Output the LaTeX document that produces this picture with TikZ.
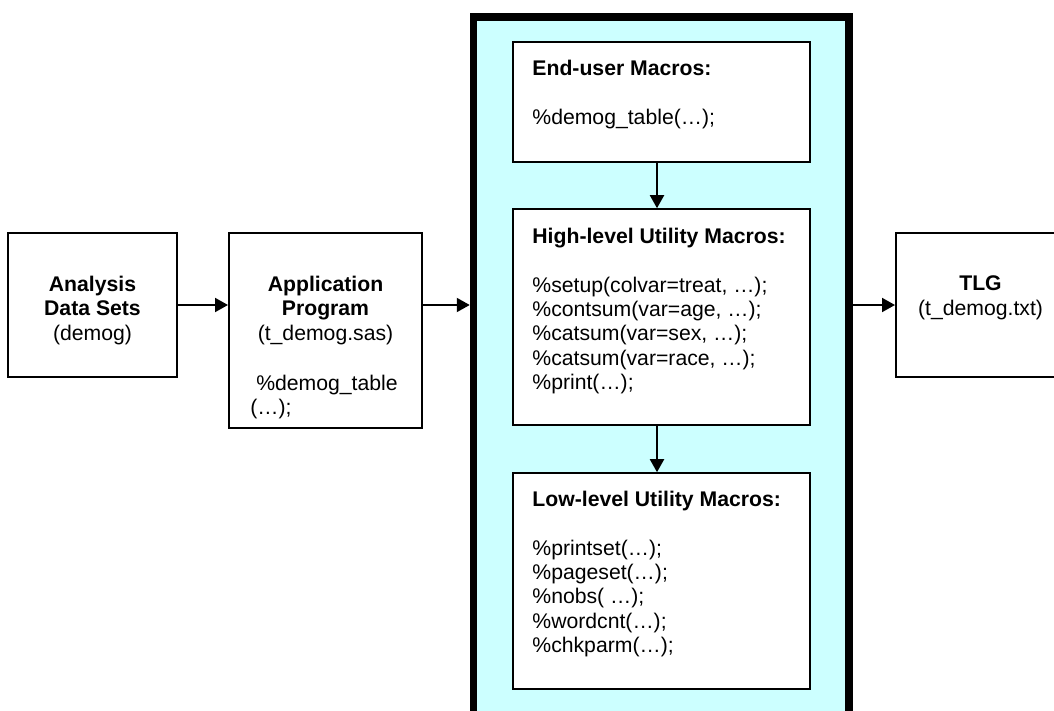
\documentclass[tikz,border=0pt]{standalone}
\usepackage{fontspec}
\setmainfont{Liberation Sans}
\usetikzlibrary{arrows.meta}
\definecolor{libcyan}{RGB}{204,255,255}

\begin{document}
\begin{tikzpicture}[x=0.5pt,y=-0.5pt,>={Triangle[length=6.5pt,width=7pt]},
  box/.style={draw,line width=1pt,inner sep=0pt,minimum width=84.5pt,minimum height=72pt},
  macrobox/.style={draw,line width=0.8pt,fill=white,inner sep=0pt,minimum width=148.5pt},
  txt/.style={inner sep=0pt,font=\fontsize{10.6pt}{12.2pt}\selectfont},
  conn/.style={->,line width=1pt}]
  \useasboundingbox (0,0) rectangle (1054,711);

  % macro library frame
  \node[draw,line width=3.75pt,fill=libcyan,minimum width=187.75pt,minimum height=349.5pt] (lib) at (661.25,366.5) {};
  \node[macrobox,minimum height=60pt] (eu) at (661.5,102) {};
  \node[macrobox,minimum height=108pt] (hi) at (661.5,317) {};
  \node[macrobox,minimum height=108pt] (lo) at (661.5,581) {};

  % left and right boxes
  \node[box] (data) at (92.5,305) {};
  \node[box,minimum width=96.5pt,minimum height=97.5pt] (app) at (325.5,330.5) {};
  \node[box] (tlg) at (980.5,305) {};

  % texts
  \node[txt,anchor=north,align=center] (datatxt) at (92.5,275.5) {\textbf{Analysis}\\\textbf{Data Sets}\\(demog)};
  \node[txt,anchor=north,align=center] (apptxt) at (325.5,275.5) {\textbf{Application}\\\textbf{Program}\\(t\_demog.sas)};
  \node[txt,anchor=north west,align=left] (appcall) at (250,374.5) {~\%demog\_table\\(…);};
  \node[txt,anchor=north,align=center] (tlgtxt) at (980.5,275.5) {\textbf{TLG}\\(t\_demog.txt)};

  \node[txt,anchor=north west,align=left] (eutxt) at (532,59.5) {\textbf{End-user Macros:}\\[12.2pt]
    \%demog\_table(…);};
  \node[txt,anchor=north west,align=left] (hitxt) at (532,227.5) {\textbf{High-level Utility Macros:}\\[12.2pt]
    \%setup(colvar=treat, …);\\
    \%contsum(var=age, …);\\
    \%catsum(var=sex, …);\\
    \%catsum(var=race, …);\\
    \%print(…);};
  \node[txt,anchor=north west,align=left] (lotxt) at (532,490.5) {\textbf{Low-level Utility Macros:}\\[12.2pt]
    \%printset(…);\\
    \%pageset(…);\\
    \%nobs( …);\\
    \%wordcnt(…);\\
    \%chkparm(…);};

  % connectors
  \draw[conn] (data.east) -- (app.west |- data.east);
  \draw[conn] (app.east |- data.east) -- (lib.west |- data.east);
  \draw[conn] (lib.east |- tlg.west) -- (tlg.west);
  \draw[conn] ([xshift=-2.25pt]eu.south) -- ([xshift=-2.25pt]hi.north);
  \draw[conn] ([xshift=-2.25pt]hi.south) -- ([xshift=-2.25pt]lo.north);
\end{tikzpicture}
\end{document}
